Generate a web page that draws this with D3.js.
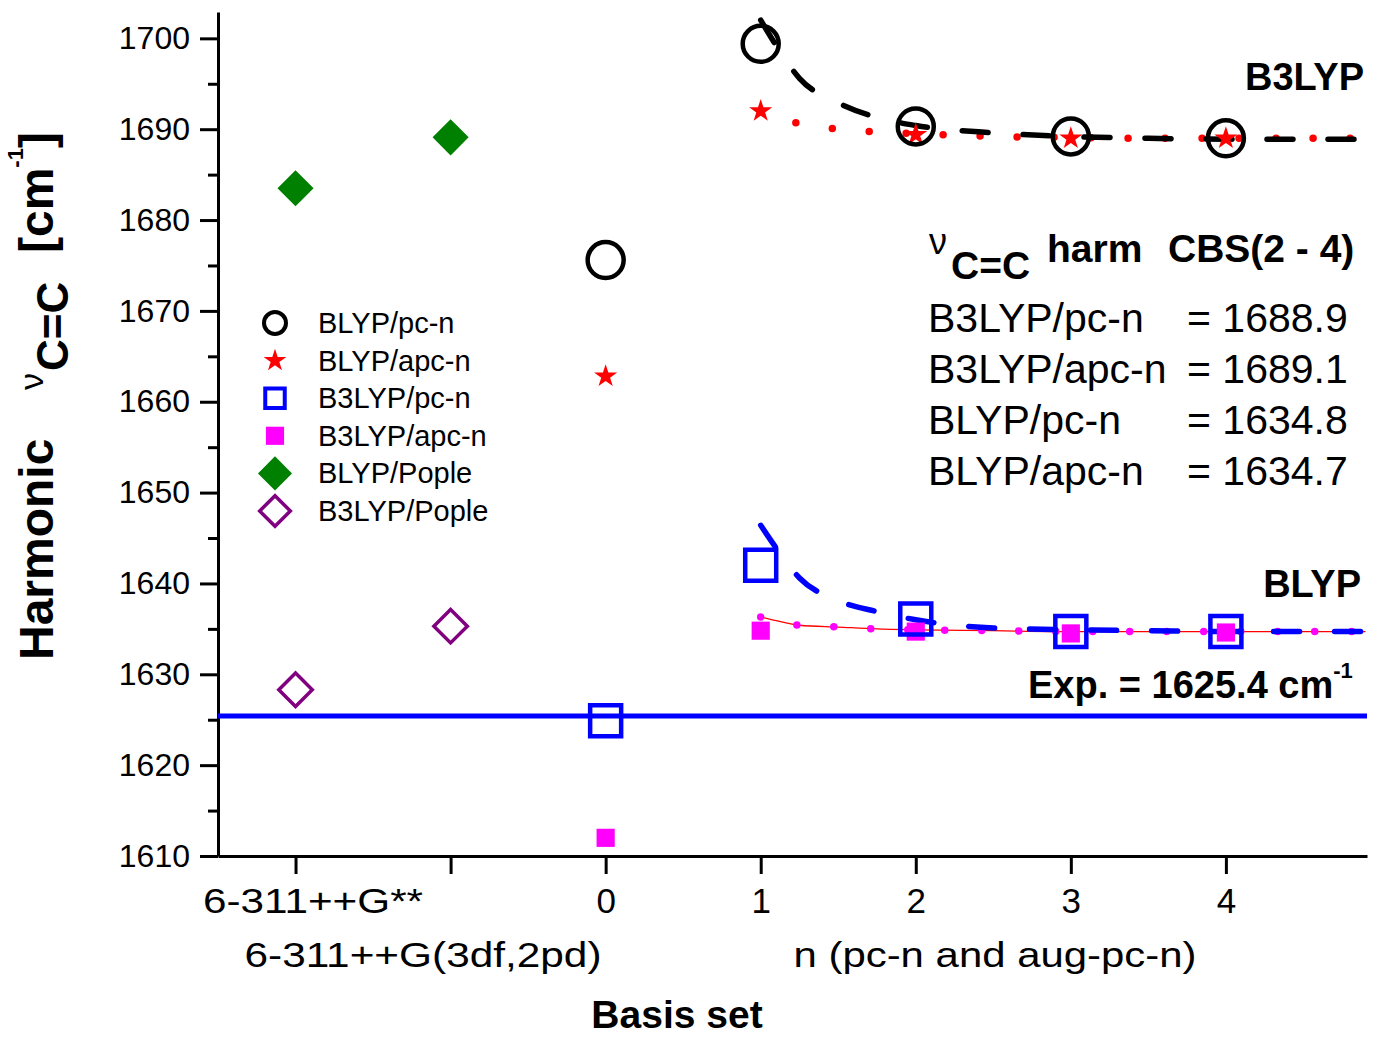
<!DOCTYPE html>
<html><head><meta charset="utf-8">
<script src="https://cdn.jsdelivr.net/npm/d3@7"></script>
<style>
body{margin:0;background:#fff;}
svg{display:block;font-family:"Liberation Sans",Arial,sans-serif;}
</style></head>
<body>
<svg id="chart" width="1379" height="1037"></svg>
<script>
// ---- data ----
const xTickValues = [-2, -1, 0, 1, 2, 3, 4];
const xTickLabels = ["6-311++G**", "", "0", "1", "2", "3", "4"];
const yTickValues = [1610, 1620, 1630, 1640, 1650, 1660, 1670, 1680, 1690, 1700];
const yMinorValues = [1615, 1625, 1635, 1645, 1655, 1665, 1675, 1685, 1695];

const pcX = [0, 1, 2, 3, 4];
const blypPc = [1675.6, 1699.4, 1690.3, 1689.2, 1689.0];
const blypApc = [1662.8, 1692.0, 1689.4, 1689.0, 1689.0];
const b3lypPc = [1624.9, 1642.0, 1636.1, 1634.7, 1634.7];
const b3lypApc = [1612.0, 1634.8, 1634.7, 1634.5, 1634.6];

const popleX = [-2, -1];
const blypPople = [1683.5, 1689.1];
const b3lypPople = [1628.3, 1635.3];

const fitN = [1, 1.1, 1.25, 1.5, 1.75, 2, 2.5, 3, 3.5, 4, 4.9];
const fitBlack = [1702.0, 1699.2, 1695.6, 1692.9, 1691.3, 1690.4, 1689.6, 1689.2, 1689.0, 1688.9, 1688.9];
const fitRed = [1692.0, 1691.4, 1690.6, 1690.0, 1689.7, 1689.5, 1689.2, 1689.1, 1689.0, 1689.0, 1689.0];
const fitBlue = [1646.4, 1643.9, 1640.6, 1638.1, 1636.9, 1636.0, 1635.1, 1634.9, 1634.8, 1634.7, 1634.7];
const fitMagenta = [1636.3, 1635.9, 1635.4, 1635.2, 1635.0, 1634.9, 1634.8, 1634.7, 1634.7, 1634.7, 1634.7];

const expValue = 1625.4;

const legendLabels = ["BLYP/pc-n", "BLYP/apc-n", "B3LYP/pc-n", "B3LYP/apc-n", "BLYP/Pople", "B3LYP/Pople"];
const cbsLabels = ["B3LYP/pc-n", "B3LYP/apc-n", "BLYP/pc-n", "BLYP/apc-n"];
const cbsValues = ["1688.9", "1689.1", "1634.8", "1634.7"];

// ---- layout ----
const svg = d3.select("#chart");
const x = d3.scaleLinear().domain([-2.5, 4.91]).range([218, 1367]);
const y = d3.scaleLinear().domain([1610, 1702.9]).range([856, 12]);

const styles = {
  blypPc:   {type: d3.symbolCircle, size: 1018, fill: "none", stroke: "#000", sw: 4.5},
  blypApc:  {type: d3.symbolStar, size: 165, fill: "#ff0000", stroke: "none", sw: 0},
  b3lypPc:  {type: d3.symbolSquare, size: 961, fill: "none", stroke: "#0000ff", sw: 4.5},
  b3lypApc: {type: d3.symbolSquare, size: 330, fill: "#ff00ff", stroke: "none", sw: 0},
  blypPople:{type: d3.symbolSquare, size: 650, fill: "#008000", stroke: "none", sw: 0, rot: 45},
  b3lypPople:{type: d3.symbolSquare, size: 560, fill: "none", stroke: "#800080", sw: 3.5, rot: 45}
};

// axes
const yAxis = d3.axisLeft(y).tickValues(yTickValues).tickSize(18).tickSizeOuter(0).tickPadding(10)
  .tickFormat(d3.format("d"));
const gy = svg.append("g").attr("transform", "translate(218,0)").call(yAxis);
gy.selectAll("text").attr("font-size", 32).attr("font-family", "Liberation Sans, Arial, sans-serif").attr("fill", "#000");
gy.selectAll("line").attr("stroke-width", 3);
gy.select(".domain").attr("stroke-width", 3);
const yMinor = d3.axisLeft(y).tickValues(yMinorValues).tickSize(10).tickSizeOuter(0).tickFormat("");
const gym = svg.append("g").attr("transform", "translate(218,0)").call(yMinor);
gym.select(".domain").remove();
gym.selectAll("line").attr("stroke-width", 3);

const xAxis = d3.axisBottom(x).tickValues(xTickValues).tickSize(18).tickSizeOuter(0).tickPadding(0)
  .tickFormat((d, i) => xTickLabels[i]);
const gx = svg.append("g").attr("transform", "translate(0,856)").call(xAxis);
gx.selectAll("line").attr("stroke-width", 3);
gx.select(".domain").attr("stroke-width", 3);
gx.selectAll("text").attr("font-size", 35).attr("fill", "#000").attr("dy", null).attr("y", 57)
  .attr("font-family", "Liberation Sans, Arial, sans-serif");
gx.selectAll(".tick").filter(d => d === -2).select("text")
  .attr("dx", 17).attr("textLength", 220).attr("lengthAdjust", "spacingAndGlyphs");

// second-row x labels
svg.append("text").attr("x", 423).attr("y", 967).attr("text-anchor", "middle").attr("font-size", 35)
  .attr("textLength", 357).attr("lengthAdjust", "spacingAndGlyphs").text("6-311++G(3df,2pd)");
svg.append("text").attr("x", 995).attr("y", 967).attr("text-anchor", "middle").attr("font-size", 35)
  .attr("textLength", 403).attr("lengthAdjust", "spacingAndGlyphs").text("n (pc-n and aug-pc-n)");
svg.append("text").attr("x", 677).attr("y", 1028).attr("text-anchor", "middle").attr("font-size", 39)
  .attr("font-weight", "bold").text("Basis set");

// y label
const yl = svg.append("text").attr("transform", "translate(53,0) rotate(-90)")
  .attr("font-weight", "bold").attr("font-size", 48);
yl.append("tspan").attr("x", -660).text("Harmonic");
yl.append("tspan").attr("x", -390).attr("dy", -10).attr("font-size", 34).attr("font-weight", "normal").text("ν");
yl.append("tspan").attr("x", -371).attr("dy", 25).attr("font-size", 44).text("C=C");
yl.append("tspan").attr("x", -253).attr("dy", -15).text("[cm");
yl.append("tspan").attr("dy", -30).attr("font-size", 22).text("-1");
yl.append("tspan").attr("dy", 30).text("]");

// exp line
svg.append("line").attr("x1", x(-2.5)).attr("x2", x(4.91)).attr("y1", y(expValue)).attr("y2", y(expValue))
  .attr("stroke", "#0000ff").attr("stroke-width", 5);

// fit curves
const line = d3.line().x((d, i) => x(fitN[i])).y(d => y(d)).curve(d3.curveMonotoneX);
svg.append("path").attr("d", line(fitMagenta)).attr("fill", "none").attr("stroke", "#ff0000").attr("stroke-width", 1.3);
svg.append("path").attr("d", line(fitMagenta)).attr("fill", "none").attr("stroke", "#ff00ff").attr("stroke-width", 7.5)
  .attr("stroke-linecap", "round").attr("stroke-dasharray", "0,37");
svg.append("path").attr("d", line(fitBlue)).attr("fill", "none").attr("stroke", "#0000ff").attr("stroke-width", 5.5)
  .attr("stroke-linecap", "round").attr("stroke-dasharray", "26,35");
svg.append("path").attr("d", line(fitRed)).attr("fill", "none").attr("stroke", "#ff0000").attr("stroke-width", 7.5)
  .attr("stroke-linecap", "round").attr("stroke-dasharray", "0,37");
svg.append("path").attr("d", line(fitBlack)).attr("fill", "none").attr("stroke", "#000").attr("stroke-width", 5.5)
  .attr("stroke-linecap", "round").attr("stroke-dasharray", "26,35");

// markers
function drawSeries(xs, ys, st) {
  svg.append("g").selectAll("path").data(ys).join("path")
    .attr("d", d3.symbol().type(st.type).size(st.size)())
    .attr("transform", (d, i) => `translate(${x(xs[i])},${y(d)})` + (st.rot ? ` rotate(${st.rot})` : ""))
    .attr("fill", st.fill).attr("stroke", st.stroke).attr("stroke-width", st.sw);
}
drawSeries(pcX, b3lypApc, styles.b3lypApc);
drawSeries(pcX, b3lypPc, styles.b3lypPc);
drawSeries(pcX, blypApc, styles.blypApc);
drawSeries(pcX, blypPc, styles.blypPc);
drawSeries(popleX, blypPople, styles.blypPople);
drawSeries(popleX, b3lypPople, styles.b3lypPople);

// legend
const legendKeys = ["blypPc", "blypApc", "b3lypPc", "b3lypApc", "blypPople", "b3lypPople"];
const legendSizes = [380, 160, 380, 330, 580, 470];
const lg = svg.append("g");
legendKeys.forEach((k, i) => {
  const st = styles[k];
  const cy = 323 + i * 37.6;
  lg.append("path").attr("d", d3.symbol().type(st.type).size(legendSizes[i])())
    .attr("transform", `translate(275,${cy})` + (st.rot ? " rotate(45)" : ""))
    .attr("fill", st.fill).attr("stroke", st.stroke).attr("stroke-width", st.sw ? Math.min(st.sw, 4) : 0);
  lg.append("text").attr("x", 318).attr("y", cy + 10).attr("font-size", 29).text(legendLabels[i]);
});

// annotations
svg.append("text").attr("x", 1364).attr("y", 90).attr("text-anchor", "end").attr("font-size", 38)
  .attr("font-weight", "bold").text("B3LYP");
svg.append("text").attr("x", 1361).attr("y", 597).attr("text-anchor", "end").attr("font-size", 38)
  .attr("font-weight", "bold").text("BLYP");
const ex = svg.append("text").attr("x", 1028).attr("y", 698).attr("font-size", 38).attr("font-weight", "bold");
ex.append("tspan").text("Exp. = 1625.4 cm");
ex.append("tspan").attr("dy", -20).attr("font-size", 22).text("-1");

const tt = svg.append("text").attr("font-weight", "bold").attr("font-size", 39);
tt.append("tspan").attr("x", 929).attr("y", 254).attr("font-size", 36).attr("font-weight", "normal").text("ν");
tt.append("tspan").attr("x", 951).attr("y", 279).text("C=C");
tt.append("tspan").attr("x", 1047).attr("y", 262).text("harm");
tt.append("tspan").attr("x", 1168).attr("y", 262).text("CBS(2 - 4)");

cbsLabels.forEach((lab, i) => {
  const by = 332 + i * 51;
  svg.append("text").attr("x", 928).attr("y", by).attr("font-size", 41).text(lab);
  svg.append("text").attr("x", 1187).attr("y", by).attr("font-size", 41).text("= " + cbsValues[i]);
});
</script>
</body></html>
